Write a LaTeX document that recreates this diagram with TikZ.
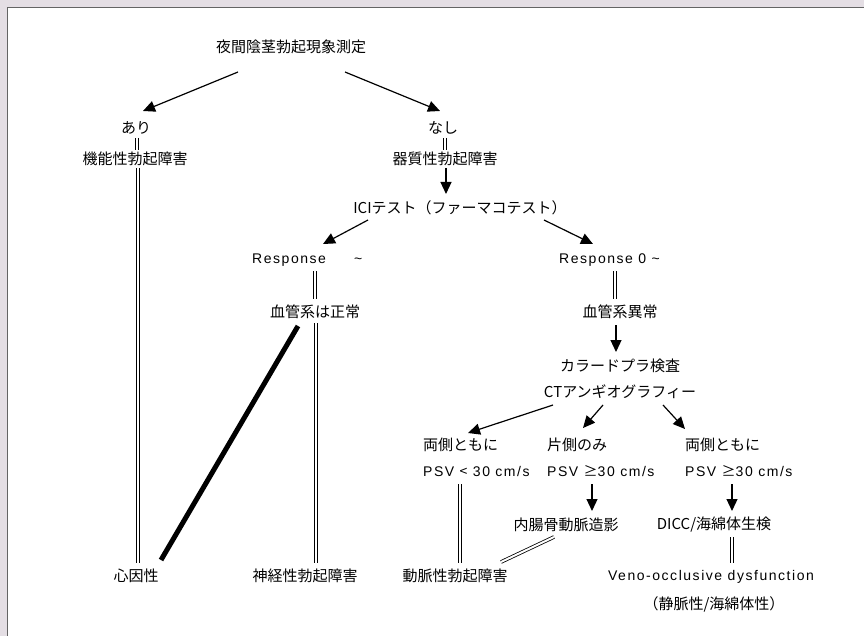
\documentclass[tikz,border=0pt]{standalone}
\usepackage{fontspec}
\newfontfamily\jp{Noto Sans CJK JP}
\newfontfamily\lat[LetterSpace=11]{Liberation Sans}
\usetikzlibrary{arrows.meta,calc}
\definecolor{bglav}{RGB}{228,222,228}
\definecolor{framegray}{RGB}{100,100,100}
\begin{document}
\begin{tikzpicture}[x=1pt,y=-1pt,
  jt/.style={inner sep=0pt, font=\jp\fontsize{15}{17}\selectfont},
  lt/.style={inner sep=0pt, font=\lat\fontsize{14}{17}\selectfont},
  arr/.style={line width=1.2pt, -{Triangle[length=12pt,width=11pt]}},
  dbl/.style={double, double distance=2pt, line width=0.8pt},
  heavy/.style={line width=5pt}]
\useasboundingbox (0,0) rectangle (864,636);
\fill[bglav] (0,0) rectangle (864,636);
\fill[white] (8,8) rectangle (864,636);
\draw[framegray, line width=1.6pt] (7.5,636) -- (7.5,7.5) -- (864,7.5);

% nodes
\node[jt] (title) at (291,47) {夜間陰茎勃起現象測定};
\node[jt] (ari) at (136,128) {あり};
\node[jt] (nashi) at (443,128) {なし};
\node[jt] (kino) at (135,159) {機能性勃起障害};
\node[jt] (kishitsu) at (445,159) {器質性勃起障害};
\node[jt] (ici) at (460,208) {ICIテスト（ファーマコテスト）};
\node[lt, anchor=west] (respL) at (252,260) {Response\hspace{28pt}\textasciitilde};
\node[lt, anchor=west] (respR) at (559,260) {Response 0 \textasciitilde};
\node[jt] (kekkanL) at (315,312) {血管系は正常};
\node[jt] (kekkanR) at (620,312) {血管系異常};
\node[jt] (color) at (620,366) {カラードプラ検査};
\node[jt] (ct) at (620,392) {CTアンギオグラフィー};
\node[jt, anchor=west] (ryoL) at (423,445) {両側ともに};
\node[jt, anchor=west] (kata) at (547,445) {片側のみ};
\node[jt, anchor=west] (ryoR) at (685,445) {両側ともに};
\node[lt, anchor=west] (psvL) at (423,471) {PSV {\jp <} 30 cm/s};
\node[lt, anchor=west] (psvM) at (547,471) {PSV {\jp ≥}30 cm/s};
\node[lt, anchor=west] (psvR) at (685,471) {PSV {\jp ≥}30 cm/s};
\node[jt] (naicho) at (566,525) {内腸骨動脈造影};
\node[jt] (dicc) at (714,525) {DICC/海綿体生検};
\node[jt] (shinin) at (136,576) {心因性};
\node[jt] (shinkei) at (305,576) {神経性勃起障害};
\node[jt] (domyaku) at (455,576) {動脈性勃起障害};
\node[lt] (veno) at (711,577) {Veno-occlusive dysfunction};
\node[jt] (seimyaku) at (714,604) {（静脈性/海綿体性）};

% connectors
\draw[arr] ($(title)+(-53,25)$) -- ($(ari)+(7,-17)$);
\draw[arr] ($(title)+(54,25)$) -- ($(nashi)+(-3,-17)$);
\draw[dbl] ($(ari)+(1,10)$) -- ($(kino)+(2,-9)$);
\draw[dbl] ($(kino)+(3,9)$) -- ($(shinin)+(2,-13)$);
\draw[dbl] ($(nashi)+(2,10)$) -- ($(kishitsu)+(0,-9)$);
\draw[arr] ($(kishitsu)+(1,9)$) -- ($(ici)+(-14,-14)$);
\draw[arr] ($(ici)+(-92,12)$) -- ($(respL.west)+(71,-16)$);
\draw[arr] ($(ici)+(84,12)$) -- ($(respR.west)+(34,-16)$);
\draw[dbl] ($(respL.west)+(63,11)$) -- ($(kekkanL)+(0,-13)$);
\draw[dbl] ($(respR.west)+(56,11)$) -- ($(kekkanR)+(-5,-13)$);
\draw[dbl] ($(kekkanL)+(1,11)$) -- ($(shinkei)+(11,-13)$);
\draw[heavy] ($(kekkanL)+(-17,14)$) -- ($(shinin)+(25,-16)$);
\draw[arr] ($(kekkanR)+(-4,13)$) -- ($(color)+(-4,-14)$);
\draw[arr] ($(ct)+(-67,13)$) -- ($(ryoL.west)+(45,-12)$);
\draw[arr] ($(ct)+(-17,13)$) -- ($(kata.west)+(36,-17)$);
\draw[arr] ($(ct)+(43,13)$) -- ($(ryoR.west)+(0,-16)$);
\draw[dbl] ($(psvL.west)+(37,13)$) -- ($(domyaku)+(5,-13)$);
\draw[arr] ($(psvM.west)+(45,13)$) -- ($(naicho)+(26,-14)$);
\draw[arr] ($(psvR.west)+(47,13)$) -- ($(dicc)+(18,-14)$);
\draw[dbl] ($(naicho)+(-12,12)$) -- ($(domyaku)+(46,-14)$);
\draw[dbl] ($(dicc)+(18,12)$) -- ($(veno)+(21,-14)$);
\end{tikzpicture}
\end{document}
